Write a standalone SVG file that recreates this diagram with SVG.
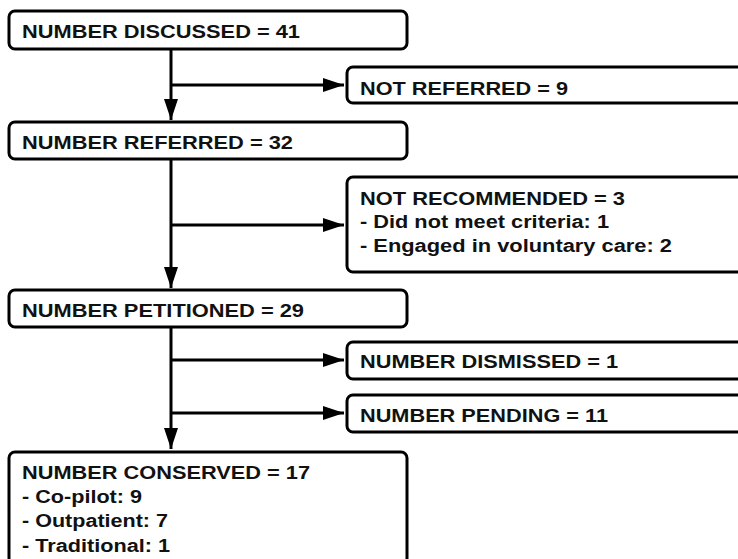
<svg xmlns="http://www.w3.org/2000/svg" width="738" height="559" viewBox="0 0 738 559">
<style>
.box{fill:#fff;stroke:#000;stroke-width:3}
.t{font-family:"Liberation Sans",Arial,sans-serif;font-weight:bold;font-size:18px;fill:#111}
.c{fill:none;stroke:#000;stroke-width:3}
</style>
<defs>
<marker id="ah" markerUnits="userSpaceOnUse" markerWidth="22" markerHeight="16" viewBox="0 0 22 16" refX="21" refY="8" orient="auto">
<path d="M0,1 L21,8 L0,15 Z" fill="#000"/>
</marker>
</defs>
<rect width="738" height="559" fill="#fff"/>
<g id="connectors">
<path class="c" d="M171,49 V120" marker-end="url(#ah)"/>
<path class="c" d="M171,85 H344" marker-end="url(#ah)"/>
<path class="c" d="M171,159 V288" marker-end="url(#ah)"/>
<path class="c" d="M171,225 H344" marker-end="url(#ah)"/>
<path class="c" d="M171,327 V449" marker-end="url(#ah)"/>
<path class="c" d="M171,360 H344" marker-end="url(#ah)"/>
<path class="c" d="M171,413 H344" marker-end="url(#ah)"/>
</g>
<g id="n-discussed">
<rect class="box" x="9" y="11" width="398" height="38" rx="6"/>
<text class="t" x="22" y="38" textLength="278" lengthAdjust="spacingAndGlyphs">NUMBER DISCUSSED = 41</text>
</g>
<g id="n-not-referred">
<rect class="box" x="347" y="67" width="420" height="36" rx="6"/>
<text class="t" x="360" y="95" textLength="208" lengthAdjust="spacingAndGlyphs">NOT REFERRED = 9</text>
</g>
<g id="n-referred">
<rect class="box" x="9" y="122" width="398" height="37" rx="6"/>
<text class="t" x="22" y="149" textLength="271" lengthAdjust="spacingAndGlyphs">NUMBER REFERRED = 32</text>
</g>
<g id="n-not-recommended">
<rect class="box" x="347" y="177" width="420" height="95" rx="6"/>
<text class="t" x="360" y="205" textLength="265" lengthAdjust="spacingAndGlyphs">NOT RECOMMENDED = 3</text>
<text class="t" x="360" y="228" textLength="249" lengthAdjust="spacingAndGlyphs">- Did not meet criteria: 1</text>
<text class="t" x="360" y="252" textLength="312" lengthAdjust="spacingAndGlyphs">- Engaged in voluntary care: 2</text>
</g>
<g id="n-petitioned">
<rect class="box" x="9" y="290" width="398" height="37" rx="6"/>
<text class="t" x="22" y="317" textLength="282" lengthAdjust="spacingAndGlyphs">NUMBER PETITIONED = 29</text>
</g>
<g id="n-dismissed">
<rect class="box" x="347" y="342" width="420" height="37" rx="6"/>
<text class="t" x="360" y="368" textLength="258" lengthAdjust="spacingAndGlyphs">NUMBER DISMISSED = 1</text>
</g>
<g id="n-pending">
<rect class="box" x="347" y="395" width="420" height="37" rx="6"/>
<text class="t" x="360" y="422" textLength="248" lengthAdjust="spacingAndGlyphs">NUMBER PENDING = 11</text>
</g>
<g id="n-conserved">
<rect class="box" x="9" y="452" width="398" height="112" rx="6"/>
<text class="t" x="22" y="479" textLength="288" lengthAdjust="spacingAndGlyphs">NUMBER CONSERVED = 17</text>
<text class="t" x="22" y="503" textLength="120" lengthAdjust="spacingAndGlyphs">- Co-pilot: 9</text>
<text class="t" x="22" y="527" textLength="146" lengthAdjust="spacingAndGlyphs">- Outpatient: 7</text>
<text class="t" x="22" y="552" textLength="148" lengthAdjust="spacingAndGlyphs">- Traditional: 1</text>
</g>
</svg>
